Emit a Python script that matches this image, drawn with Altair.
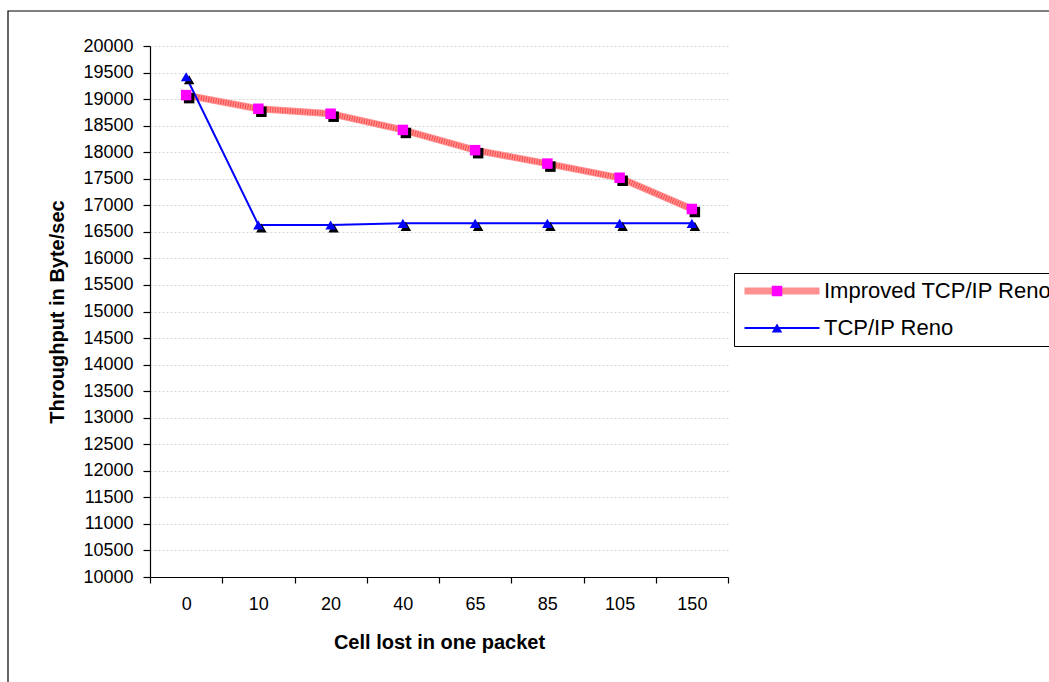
import altair as alt
import pandas as pd

# ---- data ----
cells = ["0", "10", "20", "40", "65", "85", "105", "150"]
improved = [19075, 18818, 18725, 18419, 18038, 17785, 17519, 16930]
reno = [19420, 16630, 16630, 16660, 16660, 16660, 16660, 16660]
series_names = ["Improved TCP/IP Reno", "TCP/IP Reno"]
marker_keys = ["m_improved", "m_reno"]
y_ticks = list(range(10000, 20001, 500))

rows = []
for c, a, b in zip(cells, improved, reno):
    rows.append({"cell": c, "value": a, "series": series_names[0], "marker": marker_keys[0]})
    rows.append({"cell": c, "value": b, "series": series_names[1], "marker": marker_keys[1]})
df = pd.DataFrame(rows)

FONT = "Liberation Sans"
W, H = 578, 531
PL, PT = 150, 46

x_enc = alt.X(
    "cell:O",
    sort=cells,
    scale=alt.Scale(type="band", paddingInner=0, paddingOuter=0),
    bandPosition=0.5,
    axis=alt.Axis(
        title="Cell lost in one packet",
        labelAngle=0,
        tickBand="extent",
        grid=False,
        tickSize=6,
        labelPadding=12,
        titlePadding=19,
    ),
)
y_enc = alt.Y(
    "value:Q",
    scale=alt.Scale(domain=[10000, 20000], nice=False, zero=False),
    axis=alt.Axis(
        values=y_ticks,
        format="d",
        title="Throughput in Byte/sec",
        grid=True,
        gridColor="#d4d4d4",
        gridDash=[2, 2],
        tickSize=7,
        labelPadding=10,
        titlePadding=15,
    ),
)

color_scale = alt.Scale(domain=series_names, range=["#ff9090", "#0000ff"])
width_scale = alt.Scale(domain=series_names, range=[7, 2])
line_legend = alt.Legend(
    title=None,
    orient="none",
    legendX=584,
    legendY=227,
    direction="vertical",
    symbolType="stroke",
    symbolSize=5625,
    labelFont=FONT,
    labelFontSize=22,
    labelColor="black",
    labelOffset=1,
    labelLimit=500,
    strokeColor="black",
    fillColor="white",
    padding=7,
    rowPadding=15,
    clipHeight=22,
    zindex=1,
)
marker_legend = alt.Legend(
    title=None,
    orient="none",
    legendX=609,
    legendY=227,
    direction="vertical",
    symbolSize=110,
    symbolStrokeWidth=0,
    symbolOpacity=1,
    labelFont=FONT,
    labelFontSize=22,
    labelExpr="''",
    padding=7,
    rowPadding=15,
    clipHeight=22,
    zindex=3,
)

base = alt.Chart(df)

red_base = base.transform_filter(
    alt.datum.series == series_names[0]
).mark_line().encode(
    x=x_enc, y=y_enc,
    color=alt.Color("series:N", scale=color_scale, legend=line_legend),
    strokeWidth=alt.StrokeWidth("series:N", scale=width_scale, legend=line_legend),
)
red_hatch = base.transform_filter(
    alt.datum.series == series_names[0]
).mark_line(strokeWidth=5, color="#ff2a2a", strokeDash=[1, 1.5], opacity=0.7).encode(
    x=x_enc, y=y_enc,
)
blue_line = base.transform_filter(
    alt.datum.series == series_names[1]
).mark_line().encode(
    x=x_enc, y=y_enc,
    color=alt.Color("series:N", scale=color_scale, legend=line_legend),
    strokeWidth=alt.StrokeWidth("series:N", scale=width_scale, legend=line_legend),
)

shadow_sq = base.transform_filter(
    alt.datum.series == series_names[0]
).mark_point(filled=True, shape="square", size=110, xOffset=3, yOffset=3,
             strokeWidth=0, opacity=1, color="black").encode(x=x_enc, y=y_enc)
shadow_tri = base.transform_filter(
    alt.datum.series == series_names[1]
).mark_point(filled=True, shape="triangle-up", size=110, xOffset=3, yOffset=3,
             strokeWidth=0, opacity=1, color="black").encode(x=x_enc, y=y_enc)

points = base.mark_point(filled=True, size=110, strokeWidth=0, opacity=1).encode(
    x=x_enc, y=y_enc,
    fill=alt.Fill("marker:N",
                  scale=alt.Scale(domain=marker_keys, range=["#ff00ff", "#0000ff"]),
                  legend=marker_legend),
    shape=alt.Shape("marker:N",
                    scale=alt.Scale(domain=marker_keys, range=["square", "triangle-up"]),
                    legend=marker_legend),
)

frame = alt.Chart(pd.DataFrame({"k": [0]})).mark_rect(
    fillOpacity=0, stroke="black", strokeWidth=1.2, clip=False
).encode(
    x=alt.value(8 - PL), y=alt.value(11 - PT),
    x2=alt.value(1400), y2=alt.value(900),
)

chart = alt.layer(frame, red_base, red_hatch, blue_line, shadow_sq, shadow_tri, points).properties(
    width=W, height=H,
    autosize=alt.AutoSizeParams(type="none"),
    padding={"left": PL, "top": PT, "right": 1049 - PL - W, "bottom": 682 - PT - H},
    background="white",
).configure_view(stroke=None).configure_axis(
    labelFont=FONT, titleFont=FONT, labelFontSize=18, titleFontSize=20,
    titleFontWeight="bold", labelColor="black", titleColor="black",
    domainColor="black", tickColor="black", domainWidth=1.2, tickWidth=1.2,
)

chart.save("out.html", embed_options={"renderer": "svg", "actions": False})
